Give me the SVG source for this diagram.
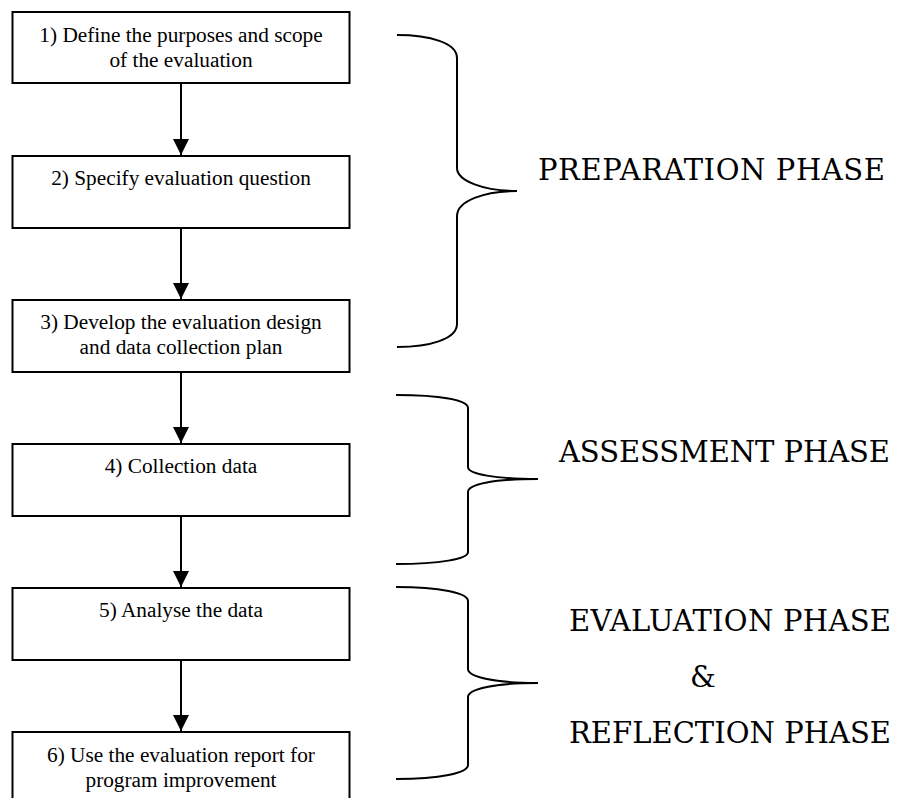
<svg xmlns="http://www.w3.org/2000/svg" width="911" height="798" viewBox="0 0 911 798">
<defs>
<style>
.box{fill:#fff;stroke:#000;stroke-width:2}
.bt{font-size:21.3px;fill:#000;text-anchor:middle}
.ph{font-size:29px;fill:#000}
.conn{stroke:#000;stroke-width:2;fill:none}
.brace{stroke:#000;stroke-width:2;fill:none}
</style>
<marker id="ah" viewBox="0 0 16 16" refX="16" refY="8" markerWidth="16" markerHeight="16" markerUnits="userSpaceOnUse" orient="auto">
<path d="M0,0 L16,8 L0,16 Z" fill="#000"/>
</marker>
</defs>
<rect width="911" height="798" fill="#fff"/>
<g id="connectors">
<line class="conn" x1="181" y1="83" x2="181" y2="155" marker-end="url(#ah)"/>
<line class="conn" x1="181" y1="228" x2="181" y2="299" marker-end="url(#ah)"/>
<line class="conn" x1="181" y1="372" x2="181" y2="443" marker-end="url(#ah)"/>
<line class="conn" x1="181" y1="516" x2="181" y2="587" marker-end="url(#ah)"/>
<line class="conn" x1="181" y1="660" x2="181" y2="731" marker-end="url(#ah)"/>
</g>
<g font-family="Liberation Serif, Times New Roman, Times, serif">
<g id="node1">
<rect class="box" x="12.5" y="12" width="337" height="71"/>
<text class="bt" x="181" y="42">1) Define the purposes and scope</text>
<text class="bt" x="181" y="66.5">of the evaluation</text>
</g>
<g id="node2">
<rect class="box" x="12.5" y="156" width="337" height="72"/>
<text class="bt" x="181" y="185">2) Specify evaluation question</text>
</g>
<g id="node3">
<rect class="box" x="12.5" y="300" width="337" height="72"/>
<text class="bt" x="181" y="329">3) Develop the evaluation design</text>
<text class="bt" x="181" y="353.5">and data collection plan</text>
</g>
<g id="node4">
<rect class="box" x="12.5" y="444" width="337" height="72"/>
<text class="bt" x="181" y="473">4) Collection data</text>
</g>
<g id="node5">
<rect class="box" x="12.5" y="588" width="337" height="72"/>
<text class="bt" x="181" y="617">5) Analyse the data</text>
</g>
<g id="node6">
<rect class="box" x="12.5" y="732" width="337" height="80"/>
<text class="bt" x="181" y="762">6) Use the evaluation report for</text>
<text class="bt" x="181" y="786.5">program improvement</text>
</g>
</g>
<g font-family="DejaVu Serif, Liberation Serif, serif">
<g id="brace-preparation">
<path class="brace" d="M397,35 C430,35 457,43 457,58 L457,168 C457,181 484,191 517,191 C484,191 457,201 457,216 L457,324 C457,339 430,347 397,347"/>
<text class="ph" x="538" y="180" textLength="347" lengthAdjust="spacing">PREPARATION PHASE</text>
</g>
<g id="brace-assessment">
<path class="brace" d="M396,395 C440,395 468,400 468,408 L468,467 C468,474 495,479 538,479 C495,479 468,484 468,492 L468,552 C468,559 440,564 396,564"/>
<text class="ph" x="559" y="462" textLength="331" lengthAdjust="spacing">ASSESSMENT PHASE</text>
</g>
<g id="brace-evaluation">
<path class="brace" d="M396,587 C440,587 468,593 468,601 L468,669 C468,677 495,683 538,683 C495,683 468,689 468,697 L468,765 C468,773 440,779 396,779"/>
<text class="ph" x="569" y="631" textLength="322" lengthAdjust="spacing">EVALUATION PHASE</text>
<text class="ph" x="690" y="687">&amp;</text>
<text class="ph" x="569" y="743" textLength="322" lengthAdjust="spacing">REFLECTION PHASE</text>
</g>
</g>
</svg>
